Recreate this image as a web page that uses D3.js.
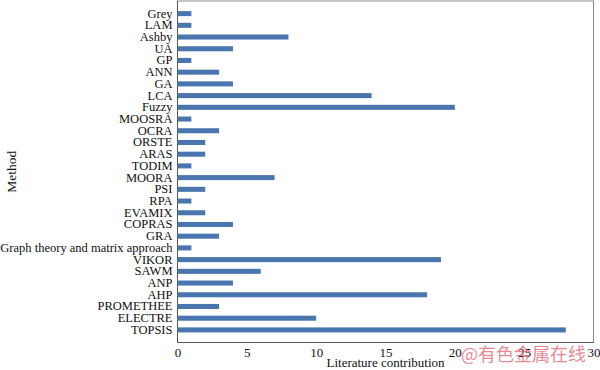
<!DOCTYPE html>
<html>
<head>
<meta charset="utf-8">
<script src="https://cdn.jsdelivr.net/npm/d3@7"></script>
<style>
  body { margin: 0; background: #fff; }
  svg { display: block; }
</style>
</head>
<body>
<svg width="600" height="370"></svg>
<script>
// методы сверху вниз
const methods = ['Grey', 'LAM', 'Ashby', 'UA', 'GP', 'ANN', 'GA', 'LCA', 'Fuzzy', 'MOOSRA',
  'OCRA', 'ORSTE', 'ARAS', 'TODIM', 'MOORA', 'PSI', 'RPA', 'EVAMIX', 'COPRAS', 'GRA',
  'Graph theory and matrix approach', 'VIKOR', 'SAWM', 'ANP', 'AHP', 'PROMETHEE', 'ELECTRE', 'TOPSIS']
const counts = [1, 1, 8, 4, 1, 3, 4, 14, 20, 1,
  3, 2, 2, 1, 7, 2, 1, 2, 4, 3,
  1, 19, 6, 4, 18, 3, 10, 28]
const xTicks = [0, 5, 10, 15, 20, 25, 30]

const svg = d3.select('svg')
const pLeft = 177.5, pRight = 593.5, pTop = 1, pBottom = 342.5
const font = '"Liberation Serif", "Times New Roman", serif'

const x = d3.scaleLinear().domain([0, 30]).range([pLeft, pRight])
const y = d3.scaleBand().domain(methods).range([pTop, pBottom])
  .paddingInner(0.57).paddingOuter(0.86)

// рамка
svg.append('rect')
  .attr('x', pLeft).attr('y', pTop)
  .attr('width', pRight - pLeft).attr('height', pBottom - pTop)
  .attr('fill', 'none').attr('stroke', '#8a8a8a').attr('stroke-width', 1)
svg.append('line').attr('x1', pLeft).attr('x2', pLeft).attr('y1', pTop).attr('y2', pBottom)
  .attr('stroke', '#555')
svg.append('line').attr('x1', pLeft).attr('x2', pRight).attr('y1', pBottom).attr('y2', pBottom)
  .attr('stroke', '#555')

// бары
svg.selectAll('.bar')
  .data(methods)
  .enter().append('rect')
  .attr('class', 'bar')
  .attr('x', x(0))
  .attr('y', (d) => y(d))
  .attr('width', (d, i) => x(counts[i]) - x(0))
  .attr('height', y.bandwidth())
  .attr('fill', '#4a76b0')

// подписи методов
const yAxis = d3.axisLeft(y).tickSize(0).tickPadding(5)
svg.append('g')
  .attr('transform', `translate(${pLeft},0)`)
  .call(yAxis)
  .call((g) => g.select('.domain').remove())
  .selectAll('text')
  .attr('font-family', font).attr('font-size', 12.5).attr('fill', '#111')

// ось x
const xAxis = d3.axisBottom(x).tickValues(xTicks).tickSize(0).tickPadding(5)
svg.append('g')
  .attr('transform', `translate(0,${pBottom})`)
  .call(xAxis)
  .call((g) => g.select('.domain').remove())
  .selectAll('text')
  .attr('font-family', font).attr('font-size', 13).attr('fill', '#111')

svg.append('text')
  .attr('x', (pLeft + pRight) / 2).attr('y', 367)
  .attr('text-anchor', 'middle')
  .attr('font-family', font).attr('font-size', 13).attr('fill', '#111')
  .text('Literature contribution')

svg.append('text')
  .attr('transform', `translate(16,${(pTop + pBottom) / 2}) rotate(-90)`)
  .attr('text-anchor', 'middle')
  .attr('font-family', font).attr('font-size', 13.5).attr('fill', '#111')
  .text('Method')

// водяной знак
svg.append('text')
  .attr('x', 461).attr('y', 361)
  .attr('font-family', '"Noto Sans CJK SC", sans-serif').attr('font-size', 18)
  .attr('fill', '#e5606e').attr('fill-opacity', 0.75)
  .text('@有色金属在线')
</script>
</body>
</html>
